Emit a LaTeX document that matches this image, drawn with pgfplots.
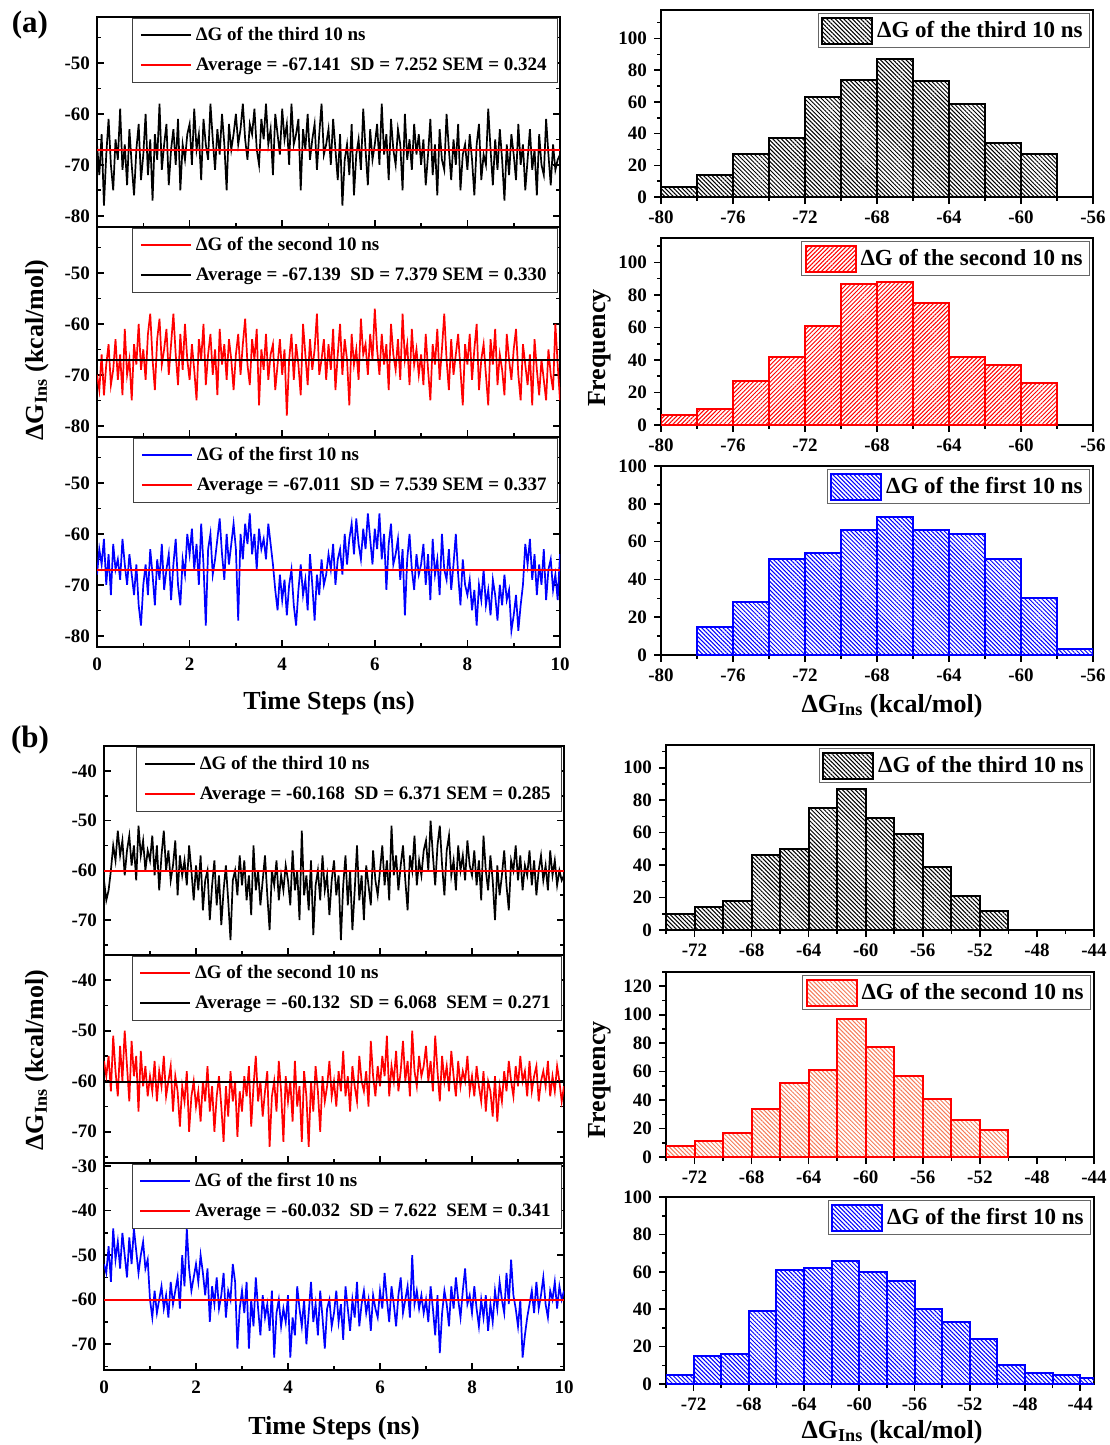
\documentclass[border=0pt]{standalone}
\usepackage{fontspec}
\setmainfont{Liberation Serif}
\usepackage{pgfplots}
\usepackage{pgfplotstable}
\pgfplotsset{compat=1.18}
\usetikzlibrary{patterns.meta}

\definecolor{salmonhatch}{RGB}{245,125,90}

% ---------- time series, sampled every 0.05 ns ----------
% (a) third 10 ns
\pgfplotstableread[header=false,row sep=\\]{
-66\\-72\\-64\\-78\\-68\\-61\\-70\\-75\\-65\\-69\\-59\\-71\\-66\\-74\\-63\\-70\\-76\\-67\\-62\\-73\\
-68\\-60\\-72\\-65\\-77\\-64\\-69\\-58\\-71\\-66\\-62\\-74\\-67\\-63\\-70\\-61\\-75\\-66\\-69\\-64\\
-62\\-70\\-59\\-67\\-64\\-73\\-61\\-66\\-69\\-58\\-65\\-71\\-63\\-68\\-60\\-66\\-75\\-62\\-67\\-64\\
-60\\-66\\-63\\-58\\-65\\-69\\-62\\-64\\-59\\-67\\-70\\-61\\-65\\-58\\-66\\-63\\-72\\-60\\-64\\-68\\
-59\\-65\\-62\\-70\\-58\\-66\\-64\\-61\\-75\\-63\\-67\\-60\\-69\\-65\\-62\\-71\\-64\\-58\\-68\\-66\\
-63\\-70\\-61\\-67\\-73\\-64\\-78\\-69\\-66\\-72\\-62\\-76\\-68\\-65\\-71\\-59\\-67\\-74\\-63\\-69\\
-66\\-62\\-70\\-58\\-68\\-64\\-73\\-61\\-67\\-70\\-63\\-66\\-75\\-60\\-69\\-65\\-71\\-62\\-68\\-64\\
-70\\-65\\-74\\-68\\-61\\-72\\-66\\-76\\-63\\-69\\-71\\-60\\-67\\-73\\-65\\-70\\-62\\-75\\-68\\-66\\
-71\\-64\\-69\\-76\\-66\\-62\\-73\\-68\\-70\\-59\\-67\\-74\\-65\\-71\\-63\\-69\\-77\\-66\\-72\\-64\\
-68\\-73\\-62\\-70\\-66\\-75\\-69\\-63\\-71\\-67\\-76\\-64\\-70\\-72\\-61\\-68\\-74\\-66\\-71\\-69\\-68\\
}\dAthird
% (a) second 10 ns
\pgfplotstableread[header=false,row sep=\\]{
-70\\-73\\-66\\-74\\-68\\-64\\-72\\-69\\-63\\-71\\-66\\-74\\-61\\-70\\-67\\-75\\-64\\-68\\-60\\-69\\
-65\\-71\\-62\\-58\\-67\\-73\\-63\\-59\\-68\\-65\\-61\\-70\\-64\\-58\\-66\\-72\\-62\\-69\\-60\\-67\\
-71\\-64\\-69\\-75\\-63\\-67\\-60\\-72\\-66\\-62\\-70\\-65\\-74\\-61\\-68\\-64\\-71\\-63\\-67\\-73\\
-66\\-62\\-70\\-64\\-59\\-68\\-72\\-63\\-67\\-61\\-76\\-65\\-69\\-62\\-71\\-66\\-64\\-73\\-68\\-63\\
-70\\-65\\-78\\-67\\-62\\-71\\-64\\-68\\-74\\-60\\-66\\-72\\-63\\-69\\-65\\-58\\-70\\-67\\-63\\-71\\
-64\\-69\\-61\\-73\\-66\\-60\\-70\\-63\\-67\\-76\\-62\\-68\\-65\\-71\\-59\\-66\\-64\\-70\\-62\\-67\\
-57\\-65\\-70\\-62\\-68\\-64\\-73\\-60\\-66\\-69\\-63\\-71\\-58\\-67\\-64\\-72\\-61\\-68\\-65\\-70\\
-66\\-72\\-62\\-69\\-75\\-64\\-68\\-61\\-71\\-65\\-58\\-67\\-73\\-63\\-70\\-66\\-62\\-69\\-76\\-64\\
-68\\-62\\-71\\-65\\-60\\-73\\-67\\-64\\-70\\-76\\-63\\-68\\-61\\-72\\-66\\-69\\-74\\-62\\-67\\-71\\
-65\\-61\\-70\\-75\\-64\\-68\\-72\\-66\\-76\\-63\\-69\\-74\\-67\\-71\\-75\\-65\\-70\\-73\\-60\\-68\\-75\\
}\dAsecond
% (a) first 10 ns
\pgfplotstableread[header=false,row sep=\\]{
-68\\-63\\-66\\-61\\-70\\-64\\-72\\-62\\-67\\-65\\-69\\-61\\-66\\-70\\-64\\-68\\-72\\-66\\-74\\-78\\
-70\\-66\\-72\\-63\\-68\\-74\\-65\\-69\\-62\\-71\\-67\\-64\\-73\\-66\\-61\\-70\\-74\\-65\\-68\\-60\\
-64\\-59\\-67\\-62\\-70\\-58\\-66\\-78\\-63\\-60\\-68\\-65\\-61\\-57\\-64\\-69\\-60\\-66\\-62\\-58\\
-63\\-77\\-60\\-65\\-58\\-62\\-56\\-64\\-60\\-67\\-59\\-63\\-61\\-65\\-58\\-62\\-66\\-71\\-75\\-68\\
-73\\-69\\-76\\-70\\-67\\-74\\-78\\-71\\-66\\-72\\-69\\-75\\-64\\-70\\-77\\-68\\-72\\-65\\-70\\-68\\
-64\\-67\\-62\\-70\\-65\\-63\\-68\\-60\\-66\\-61\\-58\\-64\\-57\\-62\\-65\\-59\\-63\\-56\\-61\\-66\\
-59\\-63\\-56\\-65\\-60\\-71\\-62\\-58\\-66\\-64\\-61\\-69\\-63\\-76\\-65\\-60\\-67\\-71\\-64\\-68\\
-66\\-62\\-70\\-64\\-73\\-61\\-68\\-65\\-72\\-60\\-67\\-69\\-63\\-71\\-66\\-60\\-68\\-74\\-65\\-70\\
-72\\-69\\-75\\-71\\-78\\-70\\-73\\-67\\-74\\-71\\-76\\-69\\-72\\-77\\-70\\-74\\-68\\-73\\-71\\-79\\
-76\\-72\\-79\\-74\\-70\\-62\\-66\\-61\\-69\\-64\\-72\\-66\\-70\\-63\\-73\\-67\\-65\\-71\\-68\\-73\\-64\\
}\dAfirst
% (b) third 10 ns
\pgfplotstableread[header=false,row sep=\\]{
-62\\-66\\-64\\-60\\-55\\-58\\-52\\-57\\-54\\-61\\-56\\-53\\-59\\-55\\-62\\-51\\-57\\-54\\-60\\-56\\
-58\\-53\\-61\\-55\\-64\\-57\\-52\\-60\\-56\\-62\\-59\\-54\\-65\\-57\\-61\\-58\\-63\\-55\\-60\\-66\\
-59\\-64\\-57\\-68\\-62\\-60\\-70\\-63\\-58\\-67\\-61\\-71\\-64\\-59\\-66\\-74\\-62\\-60\\-65\\-57\\
-63\\-58\\-66\\-61\\-69\\-55\\-64\\-60\\-67\\-62\\-57\\-65\\-72\\-60\\-63\\-58\\-66\\-61\\-64\\-59\\
-62\\-67\\-56\\-64\\-60\\-70\\-52\\-65\\-61\\-68\\-58\\-73\\-63\\-60\\-66\\-57\\-64\\-61\\-69\\-62\\
-58\\-65\\-61\\-74\\-63\\-57\\-67\\-60\\-72\\-64\\-55\\-66\\-61\\-70\\-59\\-63\\-67\\-56\\-62\\-65\\
-60\\-55\\-63\\-58\\-66\\-51\\-61\\-57\\-64\\-59\\-55\\-62\\-68\\-57\\-60\\-53\\-63\\-58\\-61\\-56\\
-54\\-60\\-50\\-57\\-63\\-55\\-51\\-59\\-65\\-56\\-53\\-61\\-58\\-64\\-55\\-60\\-57\\-62\\-54\\-59\\
-61\\-56\\-63\\-58\\-66\\-53\\-60\\-64\\-57\\-62\\-70\\-59\\-65\\-61\\-56\\-63\\-68\\-58\\-60\\-55\\
-62\\-57\\-64\\-59\\-61\\-56\\-63\\-58\\-65\\-60\\-57\\-62\\-59\\-64\\-56\\-61\\-58\\-63\\-60\\-62\\-61\\
}\dBthird
% (b) second 10 ns
\pgfplotstableread[header=false,row sep=\\]{
-56\\-59\\-55\\-62\\-51\\-58\\-63\\-53\\-60\\-50\\-57\\-64\\-52\\-59\\-55\\-66\\-54\\-61\\-57\\-63\\
-59\\-62\\-56\\-64\\-58\\-61\\-55\\-63\\-60\\-57\\-66\\-59\\-62\\-69\\-61\\-64\\-58\\-70\\-63\\-60\\
-65\\-62\\-68\\-60\\-64\\-57\\-66\\-61\\-70\\-63\\-59\\-65\\-72\\-61\\-67\\-58\\-64\\-60\\-71\\-62\\
-66\\-59\\-63\\-57\\-69\\-61\\-55\\-64\\-60\\-67\\-62\\-58\\-73\\-63\\-60\\-66\\-56\\-62\\-72\\-59\\
-64\\-60\\-68\\-56\\-65\\-61\\-72\\-58\\-63\\-73\\-60\\-66\\-57\\-62\\-70\\-59\\-64\\-61\\-56\\-63\\
-60\\-65\\-58\\-62\\-54\\-63\\-59\\-66\\-57\\-61\\-64\\-55\\-60\\-62\\-58\\-65\\-52\\-59\\-63\\-57\\
-61\\-55\\-59\\-51\\-63\\-57\\-60\\-54\\-62\\-58\\-52\\-60\\-56\\-63\\-50\\-58\\-61\\-55\\-59\\-57\\
-53\\-60\\-56\\-62\\-51\\-58\\-64\\-55\\-60\\-57\\-62\\-54\\-59\\-63\\-56\\-61\\-58\\-60\\-55\\-62\\
-59\\-63\\-57\\-61\\-64\\-58\\-66\\-60\\-62\\-67\\-59\\-68\\-61\\-64\\-58\\-62\\-56\\-60\\-63\\-57\\
-61\\-55\\-60\\-58\\-63\\-56\\-62\\-59\\-57\\-64\\-60\\-58\\-61\\-56\\-63\\-59\\-62\\-57\\-60\\-64\\-61\\
}\dBsecond
% (b) first 10 ns
\pgfplotstableread[header=false,row sep=\\]{
-52\\-54\\-48\\-56\\-44\\-51\\-47\\-53\\-45\\-50\\-55\\-46\\-52\\-44\\-49\\-54\\-50\\-47\\-53\\-51\\
-60\\-64\\-58\\-63\\-60\\-57\\-62\\-59\\-64\\-56\\-61\\-58\\-55\\-62\\-50\\-57\\-44\\-53\\-58\\-55\\
-52\\-56\\-50\\-54\\-59\\-53\\-65\\-57\\-61\\-55\\-62\\-59\\-54\\-64\\-58\\-60\\-52\\-56\\-71\\-62\\
-58\\-63\\-56\\-71\\-60\\-66\\-55\\-62\\-68\\-59\\-64\\-61\\-67\\-58\\-73\\-63\\-60\\-66\\-62\\-65\\
-59\\-73\\-64\\-68\\-57\\-62\\-66\\-60\\-70\\-63\\-56\\-65\\-61\\-68\\-58\\-64\\-71\\-62\\-60\\-66\\
-63\\-58\\-65\\-61\\-69\\-57\\-62\\-67\\-60\\-64\\-56\\-66\\-61\\-58\\-63\\-60\\-67\\-59\\-62\\-64\\
-58\\-62\\-54\\-60\\-65\\-57\\-61\\-66\\-59\\-55\\-63\\-60\\-57\\-64\\-50\\-61\\-58\\-62\\-59\\-63\\
-60\\-65\\-57\\-62\\-68\\-59\\-72\\-63\\-58\\-61\\-66\\-57\\-62\\-55\\-60\\-64\\-58\\-53\\-61\\-59\\
-63\\-57\\-62\\-66\\-60\\-64\\-59\\-67\\-61\\-65\\-58\\-62\\-56\\-60\\-63\\-54\\-61\\-51\\-59\\-62\\
-66\\-60\\-73\\-68\\-64\\-61\\-58\\-63\\-56\\-62\\-59\\-55\\-61\\-64\\-58\\-60\\-56\\-62\\-57\\-60\\-58\\
}\dBfirst

\pgfplotsset{
  base/.style={
    scale only axis, clip=true,
    axis line style={line width=1pt},
    every tick/.style={black, line width=0.8pt},
    major tick length=3.5pt, minor tick length=2pt,
    tick label style={font=\bfseries\fontsize{9.5}{11}\selectfont},
    /pgf/number format/assume math mode=true,
  },
  ts/.style={
    base, xmin=0, xmax=10, xtick={0,2,...,10}, minor xtick={1,3,...,9},
    tick align=inside, xtick pos=left, ytick pos=both,
    xticklabel style={yshift=-2pt},
    legend cell align=left,
    legend image code/.code={\draw[##1, line width=1pt] (0pt,0pt) -- (25pt,0pt);},
    legend style={at={(rel axis cs:0.996,0.997)}, anchor=north east,
      draw=black!75, line width=0.5pt,
      font=\bfseries\fontsize{9.5}{11}\selectfont,
      row sep=3pt, inner xsep=3.5pt, inner ysep=2.5pt},
  },
  hist/.style={
    base, ymin=0, tick align=outside, tick pos=left,
    ytick={0,20,...,120}, minor ytick={10,30,...,130},
    legend cell align=left,
    legend style={at={(rel axis cs:0.993,0.983)}, anchor=north east,
      draw=black!60, line width=0.4pt,
      font=\bfseries\fontsize{11.5}{13}\selectfont, inner sep=1.5pt},
  },
  histlegend/.style={
    legend image code/.code={\draw[##1, line width=1pt] (0pt,-6.5pt) rectangle (25pt,6.5pt);}},
  hatchdown/.style={pattern={Lines[angle=-45,distance=1.5pt,line width=0.5pt]}},
  hatchup/.style={pattern={Lines[angle=45,distance=1.5pt,line width=0.5pt]}},
  trace/.style={line width=0.85pt},
}

\begin{document}
\begin{tikzpicture}
\useasboundingbox (0,0) rectangle (554.5pt,-722.5pt);

% ================= (a) time series =================
\begin{axis}[ts, at={(48.5pt,-8.5pt)}, anchor=north west, width=231.5pt, height=105pt,
  ymin=-82.2, ymax=-41, ytick={-80,-70,-60,-50}, minor ytick={-75,-65,-55,-45}, xticklabels={}]
\addplot[black, trace] table[x expr=\coordindex*0.05, y index=0] {\dAthird};
\addlegendentry{ΔG of the third 10 ns}
\addplot[red, line width=1pt] coordinates {(0,-67.141) (10,-67.141)};
\addlegendentry{Average = -67.141\ \ SD = 7.252 SEM = 0.324}
\end{axis}

\begin{axis}[ts, at={(48.5pt,-113.5pt)}, anchor=north west, width=231.5pt, height=105pt,
  ymin=-82.2, ymax=-41, ytick={-80,-70,-60,-50}, minor ytick={-75,-65,-55,-45}, xticklabels={}]
\addplot[red, trace] table[x expr=\coordindex*0.05, y index=0] {\dAsecond};
\addlegendentry{ΔG of the second 10 ns}
\addplot[black, line width=1pt] coordinates {(0,-67.139) (10,-67.139)};
\addlegendentry{Average = -67.139\ \ SD = 7.379 SEM = 0.330}
\end{axis}

\begin{axis}[ts, at={(48.5pt,-218.5pt)}, anchor=north west, width=231.5pt, height=105pt,
  ymin=-82.2, ymax=-41, ytick={-80,-70,-60,-50}, minor ytick={-75,-65,-55,-45}]
\addplot[blue, trace] table[x expr=\coordindex*0.05, y index=0] {\dAfirst};
\addlegendentry{ΔG of the first 10 ns}
\addplot[red, line width=1pt] coordinates {(0,-67.011) (10,-67.011)};
\addlegendentry{Average = -67.011\ \ SD = 7.539 SEM = 0.337}
\end{axis}

% ================= (a) histograms =================
\begin{axis}[hist, at={(330.5pt,-5pt)}, anchor=north west, width=216pt, height=93.5pt,
  xmin=-80, xmax=-56, xtick={-80,-76,...,-56}, minor xtick={-78,-74,...,-58}, ymax=118]
\addplot[ybar interval, draw=black, line width=1pt, hatchdown, pattern color=black, histlegend]
  coordinates {(-80,6) (-78,14) (-76,27) (-74,37) (-72,63) (-70,74) (-68,87) (-66,73) (-64,59) (-62,34) (-60,27) (-58,0)};
\addlegendentry{ΔG of the third 10 ns}
\end{axis}

\begin{axis}[hist, at={(330.5pt,-119pt)}, anchor=north west, width=216pt, height=93.5pt,
  xmin=-80, xmax=-56, xtick={-80,-76,...,-56}, minor xtick={-78,-74,...,-58}, ymax=115]
\addplot[ybar interval, draw=red, line width=1pt, hatchup, pattern color=red, histlegend]
  coordinates {(-80,6) (-78,10) (-76,27) (-74,42) (-72,61) (-70,87) (-68,88) (-66,75) (-64,42) (-62,37) (-60,26) (-58,0)};
\addlegendentry{ΔG of the second 10 ns}
\end{axis}

\begin{axis}[hist, at={(330.5pt,-233pt)}, anchor=north west, width=216pt, height=94.5pt,
  xmin=-80, xmax=-56, xtick={-80,-76,...,-56}, minor xtick={-78,-74,...,-58}, ymax=100]
\addplot[ybar interval, draw=blue, line width=1pt, hatchdown, pattern color=blue, histlegend]
  coordinates {(-78,15) (-76,28) (-74,51) (-72,54) (-70,66) (-68,73) (-66,66) (-64,64) (-62,51) (-60,30) (-58,3) (-56,0)};
\addlegendentry{ΔG of the first 10 ns}
\end{axis}

% ================= (b) time series =================
\begin{axis}[ts, at={(52pt,-373pt)}, anchor=north west, width=230pt, height=104.5pt,
  ymin=-77, ymax=-35, ytick={-70,-60,-50,-40}, minor ytick={-75,-65,-55,-45}, xticklabels={}]
\addplot[black, trace] table[x expr=\coordindex*0.05, y index=0] {\dBthird};
\addlegendentry{ΔG of the third 10 ns}
\addplot[red, line width=1pt] coordinates {(0,-60.168) (10,-60.168)};
\addlegendentry{Average = -60.168\ \ SD = 6.371 SEM = 0.285}
\end{axis}

\begin{axis}[ts, at={(52pt,-477.5pt)}, anchor=north west, width=230pt, height=104pt,
  ymin=-76.2, ymax=-35, ytick={-70,-60,-50,-40}, minor ytick={-75,-65,-55,-45}, xticklabels={}]
\addplot[red, trace] table[x expr=\coordindex*0.05, y index=0] {\dBsecond};
\addlegendentry{ΔG of the second 10 ns}
\addplot[black, line width=1pt] coordinates {(0,-60.132) (10,-60.132)};
\addlegendentry{Average = -60.132\ \ SD = 6.068\ \ SEM = 0.271}
\end{axis}

\begin{axis}[ts, at={(52pt,-581.5pt)}, anchor=north west, width=230pt, height=103.5pt,
  ymin=-75.8, ymax=-29.3, ytick={-70,-60,-50,-40,-30}, minor ytick={-75,-65,-55,-45,-35}]
\addplot[blue, trace] table[x expr=\coordindex*0.05, y index=0] {\dBfirst};
\addlegendentry{ΔG of the first 10 ns}
\addplot[red, line width=1pt] coordinates {(0,-60.032) (10,-60.032)};
\addlegendentry{Average = -60.032\ \ SD = 7.622\ \ SEM = 0.341}
\end{axis}

% ================= (b) histograms =================
\begin{axis}[hist, at={(333pt,-372.5pt)}, anchor=north west, width=214pt, height=92.5pt,
  xmin=-74, xmax=-44, xtick={-72,-68,...,-44}, minor xtick={-74,-70,...,-46}, ymax=114]
\addplot[ybar interval, draw=black, line width=1pt, hatchdown, pattern color=black, histlegend]
  coordinates {(-74,10) (-72,14) (-70,18) (-68,46) (-66,50) (-64,75) (-62,87) (-60,69) (-58,59) (-56,39) (-54,21) (-52,12) (-50,0)};
\addlegendentry{ΔG of the third 10 ns}
\end{axis}

\begin{axis}[hist, at={(333pt,-486pt)}, anchor=north west, width=214pt, height=92.5pt,
  xmin=-74, xmax=-44, xtick={-72,-68,...,-44}, minor xtick={-74,-70,...,-46}, ymax=130]
\addplot[ybar interval, draw=red, line width=1pt, hatchdown, pattern color=salmonhatch, histlegend]
  coordinates {(-74,8) (-72,11) (-70,17) (-68,34) (-66,52) (-64,61) (-62,97) (-60,77) (-58,57) (-56,41) (-54,26) (-52,19) (-50,0)};
\addlegendentry{ΔG of the second 10 ns}
\end{axis}

\begin{axis}[hist, at={(333pt,-598.5pt)}, anchor=north west, width=214pt, height=93.5pt,
  xmin=-74, xmax=-43, xtick={-72,-68,...,-44}, minor xtick={-74,-70,...,-46}, ymax=100]
\addplot[ybar interval, draw=blue, line width=1pt, hatchdown, pattern color=blue, histlegend]
  coordinates {(-74,5) (-72,15) (-70,16) (-68,39) (-66,61) (-64,62) (-62,66) (-60,60) (-58,55) (-56,40) (-54,33) (-52,24) (-50,10) (-48,6) (-46,5) (-44,3) (-42,0)};
\addlegendentry{ΔG of the first 10 ns}
\end{axis}

% ================= panel labels and axis titles =================
\begin{scope}[every node/.style={font=\bfseries\fontsize{13}{15}\selectfont}]
\node[font=\bfseries\fontsize{15.5}{18}\selectfont] at (15pt,-12.5pt) {(a)};
\node[font=\bfseries\fontsize{15.5}{18}\selectfont] at (15pt,-370pt) {(b)};
\node[rotate=90] at (18.5pt,-175pt) {ΔG\textsubscript{Ins} (kcal/mol)};
\node[rotate=90] at (18.5pt,-530pt) {ΔG\textsubscript{Ins} (kcal/mol)};
\node at (164.5pt,-351.5pt) {Time Steps (ns)};
\node at (167pt,-714pt) {Time Steps (ns)};
\node[rotate=90] at (300pt,-174pt) {Frequency};
\node[rotate=90] at (300pt,-540pt) {Frequency};
\node at (446pt,-353pt) {ΔG\textsubscript{Ins} (kcal/mol)};
\node at (446pt,-716pt) {ΔG\textsubscript{Ins} (kcal/mol)};
\end{scope}
\end{tikzpicture}
\end{document}
